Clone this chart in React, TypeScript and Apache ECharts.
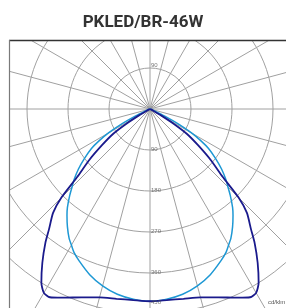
import React, { useEffect, useRef } from 'react';
import * as echarts from 'echarts';

const TITLE = 'PKLED/BR-46W';
const UNIT = 'cd/klm';
const gamma = [0, 5, 10, 15, 20, 25, 28, 30, 32, 35, 38, 40, 43, 45, 47, 50, 53, 56, 58, 60, 62, 64, 66, 68, 70, 90];
const planeC0C180 = [422, 421, 423, 428, 440, 457, 468, 466, 450, 412, 373, 345, 312, 275, 218, 174, 132, 98, 62, 28, 8, 2, 0, 0, 0, 0];
const planeC90C270 = [422, 419, 413, 402, 387, 368, 356, 345, 335, 316, 296, 282, 258, 242, 228, 205, 180, 155, 132, 106, 72, 36, 12, 3, 0, 0];
const ringLabels = [90, 180, 270, 360, 450];
const upperLabels = [90];

function mirror(values: number[]) {
  const pts: number[][] = [];
  for (let i = gamma.length - 1; i > 0; i--) pts.push([values[i], 360 - gamma[i]]);
  pts.push([values[0], 0]);
  for (let i = 1; i < gamma.length; i++) pts.push([values[i], gamma[i]]);
  return pts;
}

export default function App() {
  const ref = useRef<HTMLDivElement>(null);
  useEffect(() => {
    if (!ref.current) return;
    const chart = echarts.init(ref.current, null, { renderer: 'svg' });
    const labelData = [
      ...ringLabels.map((v) => ({ value: [v, 0], label: { offset: v === 450 ? [0, -12] : [0, -1] } })),
      ...upperLabels.map((v) => ({ value: [v, 180], label: { offset: [0, -3] } })),
    ];
    chart.setOption({
      animation: false,
      polar: { center: [150, 109], radius: 246 },
      angleAxis: {
        type: 'value', min: 0, max: 360, interval: 15, startAngle: 270, clockwise: true,
        axisLine: { show: false }, axisTick: { show: false }, axisLabel: { show: false },
        splitLine: { show: true, lineStyle: { color: '#a0a0a0', width: 1 } },
      },
      radiusAxis: {
        type: 'value', min: 0, max: 540, interval: 90,
        axisLine: { show: false }, axisTick: { show: false }, axisLabel: { show: false },
        splitLine: { show: true, lineStyle: { color: '#a0a0a0', width: 1 } },
      },
      series: [
        {
          type: 'line', coordinateSystem: 'polar', data: mirror(planeC90C270), smooth: 0.2,
          showSymbol: false, silent: true, lineStyle: { color: '#1e98d4', width: 1.5 }, z: 3,
        },
        {
          type: 'line', coordinateSystem: 'polar', data: mirror(planeC0C180), smooth: 0.2,
          showSymbol: false, silent: true, lineStyle: { color: '#1a1a8c', width: 1.8 }, z: 4,
        },
        {
          type: 'scatter', coordinateSystem: 'polar', data: labelData, symbolSize: 0, silent: true, z: 5,
          label: {
            show: true, position: 'right', distance: 1, fontSize: 6, color: '#555',
            fontFamily: 'Liberation Sans, Arial, sans-serif',
            formatter: (p: any) => String(p.value[0]),
          },
        },
      ],
      graphic: [
        { type: 'rect', z: 100, shape: { x: 0, y: 0, width: 286, height: 40 }, style: { fill: '#fff' } },
        { type: 'rect', z: 100, shape: { x: 0, y: 0, width: 9, height: 308 }, style: { fill: '#fff' } },
        { type: 'line', z: 101, shape: { x1: 9, y1: 40.5, x2: 286, y2: 40.5 }, style: { stroke: '#333', lineWidth: 1.5 } },
        { type: 'line', z: 101, shape: { x1: 9.5, y1: 40, x2: 9.5, y2: 308 }, style: { stroke: '#7a7a7a', lineWidth: 1.2 } },
        {
          type: 'text', z: 102, x: 143, y: 21,
          style: { text: TITLE, fill: '#333', font: 'bold 17px Roboto', textAlign: 'center', textVerticalAlign: 'middle' },
        },
        {
          type: 'text', z: 102, x: 268, y: 299,
          style: { text: UNIT, fill: '#555', font: '6px "Liberation Sans", Arial, sans-serif', textAlign: 'left', textVerticalAlign: 'top' },
        },
      ],
    });
    return () => chart.dispose();
  }, []);
  return <div ref={ref} style={{ position: 'fixed', left: 0, top: 0, width: 286, height: 308 }} />;
}
